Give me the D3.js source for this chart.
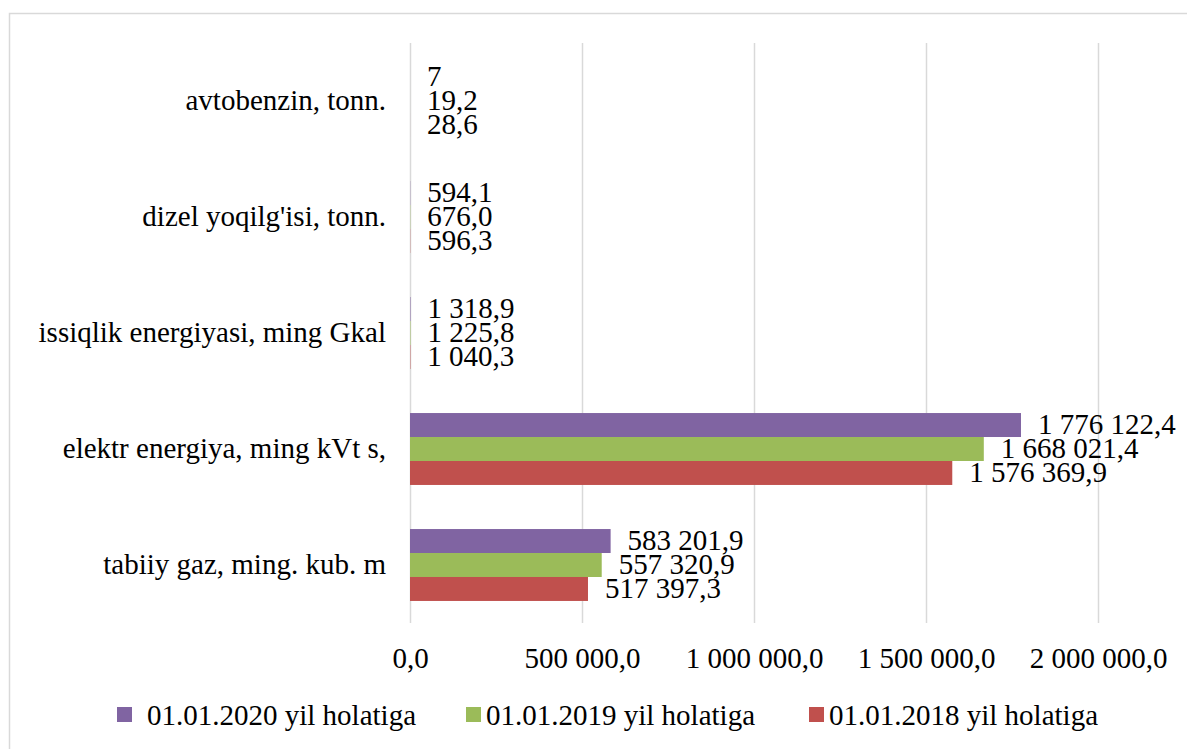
<!DOCTYPE html>
<meta charset="utf-8">
<style>
  body {
    margin: 0;
    background: #fff;
    font-family: "Liberation Serif", "Times New Roman", serif;
  }

  text {
    font-family: "Liberation Serif", "Times New Roman", serif;
    fill: #000;
  }
</style>

<body>
  <script src="https://d3js.org/d3.v7.min.js"></script>

  <script>
    // categories, top to bottom as drawn
    var categories = [
      "avtobenzin, tonn.",
      "dizel yoqilg'isi, tonn.",
      "issiqlik energiyasi, ming Gkal",
      "elektr energiya, ming kVt s,",
      "tabiiy gaz, ming. kub. m"
    ];

    var seriesNames = ["01.01.2020 yil holatiga", "01.01.2019 yil holatiga", "01.01.2018 yil holatiga"];
    var seriesColors = ["#8064A2", "#9BBB59", "#C0504D"];

    // values per series, same order as categories
    var values2020 = [7, 594.1, 1318.9, 1776122.4, 583201.9];
    var values2019 = [19.2, 676.0, 1225.8, 1668021.4, 557320.9];
    var values2018 = [28.6, 596.3, 1040.3, 1576369.9, 517397.3];

    var xTicks = [0, 500000, 1000000, 1500000, 2000000];

    var width = 1187, height = 749;
    var margin = { top: 43, left: 410, right: 89, bottom: 126 };
    var plotW = 1098 - margin.left, plotH = 623 - margin.top;

    var svg = d3.select("body").append("svg")
      .attr("width", width)
      .attr("height", height);

    // chart area border
    svg.append("rect")
      .attr("x", 9.5).attr("y", 13.5)
      .attr("width", 1200).attr("height", 800)
      .attr("fill", "none")
      .attr("stroke", "#d9d9d9")
      .attr("stroke-width", 1.5);

    var g = svg.append("g")
      .attr("transform", "translate(" + margin.left + "," + margin.top + ")");

    var loc = d3.formatLocale({ decimal: ",", thousands: " ", grouping: [3], currency: ["", ""] });
    var fmt = loc.format(",.1f");
    var labelText = function (v) {
      // the source shows a bare "7" for the first value
      return v === 7 ? "7" : fmt(v);
    };

    var x = d3.scaleLinear().domain([0, 2000000]).range([0, plotW]);

    var y = d3.scaleBand()
      .domain(categories)
      .range([0, plotH])
      .paddingInner(0.38)
      .paddingOuter(0.19);

    var ySub = d3.scaleBand()
      .domain(seriesNames)
      .range([0, y.bandwidth()]);

    // gridlines
    g.append("g")
      .call(d3.axisBottom(x).tickValues(xTicks).tickSize(plotH).tickFormat(""))
      .call(function (s) {
        s.select(".domain").remove();
        s.selectAll(".tick line").attr("stroke", "#d9d9d9").attr("stroke-width", 1.5);
      });

    // x tick labels
    g.append("g")
      .attr("transform", "translate(0," + plotH + ")")
      .call(d3.axisBottom(x).tickValues(xTicks).tickSize(0).tickFormat(function (d) { return fmt(d); }))
      .call(function (s) {
        s.select(".domain").remove();
        s.selectAll(".tick text")
          .attr("y", 45)
          .attr("dy", 0)
          .style("font-size", "29px")
          .style("font-family", "Liberation Serif, serif");
      });

    // category labels
    g.append("g")
      .selectAll("text")
      .data(categories)
      .enter()
      .append("text")
      .attr("x", -24)
      .attr("y", function (d) { return y(d) + y.bandwidth() / 2; })
      .attr("dy", "0.32em")
      .attr("text-anchor", "end")
      .style("font-size", "29px")
      .text(function (d) { return d; });

    var allSeries = [values2020, values2019, values2018];
    var rows = [];
    allSeries.forEach(function (vals, si) {
      vals.forEach(function (v, ci) {
        rows.push({ series: seriesNames[si], color: seriesColors[si], cat: categories[ci], value: v });
      });
    });

    g.append("g")
      .selectAll("rect")
      .data(rows)
      .enter()
      .append("rect")
      .attr("x", x(0))
      .attr("y", function (d) { return y(d.cat) + ySub(d.series); })
      .attr("width", function (d) { return x(d.value) - x(0); })
      .attr("height", ySub.bandwidth())
      .attr("fill", function (d) { return d.color; });

    g.append("g")
      .selectAll("text")
      .data(rows)
      .enter()
      .append("text")
      .attr("x", function (d) { return x(d.value) + 17; })
      .attr("y", function (d) { return y(d.cat) + ySub(d.series) + ySub.bandwidth() / 2; })
      .attr("dy", "0.3em")
      .style("font-size", "29px")
      .text(function (d) { return labelText(d.value); });

    // legend
    var legendX = [117, 466, 809];
    var legend = svg.append("g")
      .selectAll("g")
      .data(seriesNames)
      .enter()
      .append("g")
      .attr("transform", function (d, i) { return "translate(" + legendX[i] + ",707)"; });

    legend.append("rect")
      .attr("width", 15).attr("height", 15)
      .attr("fill", function (d, i) { return seriesColors[i]; });

    legend.append("text")
      .attr("x", function (d, i) { return i === 0 ? 30 : 20; })
      .attr("y", 18)
      .style("font-size", "29px")
      .text(function (d) { return d; });
  </script>
</body>
